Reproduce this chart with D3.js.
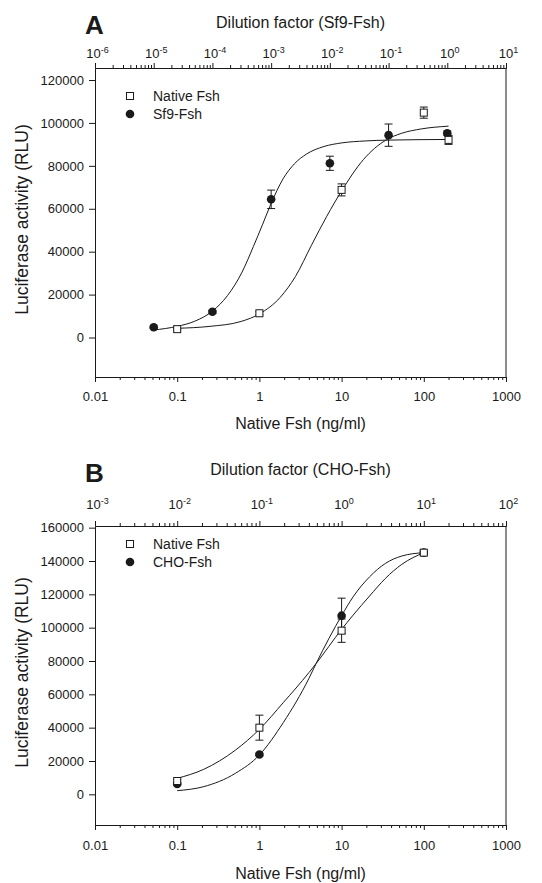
<!DOCTYPE html>
<html>
<head>
<meta charset="utf-8">
<script src="https://cdn.jsdelivr.net/npm/d3@7"></script>
<style>
  body { margin: 0; background: #fff; }
  svg text { font-family: Arial, "Liberation Sans", sans-serif; fill: #1a1a1a; }
</style>
</head>
<body>
<script>
// ---- Panel A: Sf9-Fsh vs native Fsh ----
const nativeDoseA = [0.1, 1, 10, 100, 200];
const nativeRespA = [3900, 11300, 68800, 104800, 92100];
const nativeErrA = [400, 700, 2800, 2600, 2100];
const sf9DilA = [1e-5, 1e-4, 1e-3, 1e-2, 1e-1, 1];
const sf9RespA = [4800, 12000, 64400, 81200, 94300, 95200];
const sf9ErrA = [500, 700, 4300, 3300, 5200, 1000];

// fitted curves
const nativeFitXA = [0.1, 0.25, 0.6, 1, 1.8, 2.75, 4.3, 6.6, 10, 18.5, 34.6, 54, 93, 200];
const nativeFitYA = [4300, 5200, 7500, 11000, 18800, 28500, 43000, 56500, 68300, 83000, 92000, 95200, 97200, 98500];
const sf9FitXA = [1e-5, 2.5e-5, 5e-5, 1e-4, 1.8e-4, 3.2e-4, 5e-4, 7.1e-4, 1e-3, 1.6e-3, 2.5e-3, 4e-3, 7.9e-3, 0.016, 0.04, 0.1, 1];
const sf9FitYA = [3500, 5200, 7600, 12300, 19500, 30500, 42500, 52500, 62500, 74000, 81000, 85500, 89000, 90700, 91600, 92000, 92300];

// ---- Panel B: CHO-Fsh vs native Fsh ----
const nativeDoseB = [0.1, 1, 10, 100];
const nativeRespB = [8000, 40000, 98200, 145000];
const nativeErrB = [800, 7500, 7000, 1000];
const choDilB = [0.01, 0.1, 1, 10];
const choRespB = [6200, 23900, 107200, 145000];
const choErrB = [600, 800, 10500, 1200];

const nativeFitXB = [0.1, 0.21, 0.51, 1, 1.95, 4, 4.9, 10, 13.8, 21.9, 34, 54, 100];
const nativeFitYB = [9600, 15000, 26500, 39000, 55000, 73000, 78500, 99000, 107500, 119000, 129500, 138000, 145000];
const choFitXB = [0.01, 0.021, 0.051, 0.1, 0.195, 0.4, 0.49, 1, 1.38, 2.19, 3.4, 5.4, 10];
const choFitYB = [2200, 4600, 12600, 23600, 43000, 69500, 78500, 107200, 118500, 130500, 138500, 143000, 145000];

// ---- axes ----
const bottomTicks = [0.01, 0.1, 1, 10, 100, 1000];
const bottomLabels = ["0.01", "0.1", "1", "10", "100", "1000"];
const topTicksA = [1e-6, 1e-5, 1e-4, 1e-3, 1e-2, 1e-1, 1, 10];
const topExpA = ["-6", "-5", "-4", "-3", "-2", "-1", "0", "1"];
const topTicksB = [1e-3, 1e-2, 1e-1, 1, 10, 100];
const topExpB = ["-3", "-2", "-1", "0", "1", "2"];
const yTicksA = [0, 20000, 40000, 60000, 80000, 100000, 120000];
const yTicksB = [0, 20000, 40000, 60000, 80000, 100000, 120000, 140000, 160000];

const width = 542;
const height = 883;
const left = 95;
const right = 506;
const ink = "#1a1a1a";

const svg = d3.select("body")
  .append("svg")
  .attr("width", width)
  .attr("height", height);

function minorTicks(decades) {
  const out = [];
  for (let i = 0; i < decades.length - 1; i++) {
    for (let m = 2; m <= 9; m++) out.push(decades[i] * m);
  }
  return out;
}

function styleAxis(g) {
  g.attr("font-size", null).attr("font-family", null);
  g.selectAll("path, line").attr("stroke", ink);
  g.selectAll("text").attr("fill", ink).style("font-size", "13px");
}

function drawPanel(p) {
  const g = svg.append("g");
  const x = d3.scaleLog().domain([bottomTicks[0], bottomTicks[bottomTicks.length - 1]]).range([left, right]);
  const xTop = d3.scaleLog().domain([p.topTicks[0], p.topTicks[p.topTicks.length - 1]]).range([left, right]);
  const y = d3.scaleLinear().domain(p.yDomain).range([p.bottom, p.top]);

  // left axis
  g.append("g")
    .attr("transform", `translate(${left},0)`)
    .call(d3.axisLeft(y).tickValues(p.yTicks).tickSize(6).tickPadding(5).tickSizeOuter(0).tickFormat(d3.format("d")))
    .call(styleAxis);

  // right frame line
  g.append("line")
    .attr("x1", right).attr("x2", right)
    .attr("y1", p.top).attr("y2", p.bottom)
    .attr("stroke", ink);

  // bottom axis, minor then major
  g.append("g")
    .attr("transform", `translate(0,${p.bottom})`)
    .call(d3.axisBottom(x).tickValues(minorTicks(bottomTicks)).tickSize(3).tickSizeOuter(0).tickFormat(""))
    .call(styleAxis);
  g.append("g")
    .attr("transform", `translate(0,${p.bottom})`)
    .call(d3.axisBottom(x).tickValues(bottomTicks).tickSize(5).tickPadding(p.bottomPad).tickSizeOuter(0)
      .tickFormat((d, i) => bottomLabels[i]))
    .call(styleAxis);

  // top axis, minor then major with superscript labels
  g.append("g")
    .attr("transform", `translate(0,${p.top})`)
    .call(d3.axisTop(xTop).tickValues(minorTicks(p.topTicks)).tickSize(3).tickSizeOuter(0).tickFormat(""))
    .call(styleAxis);
  const topAxis = g.append("g")
    .attr("transform", `translate(0,${p.top})`)
    .call(d3.axisTop(xTop).tickValues(p.topTicks).tickSize(5).tickSizeOuter(0).tickFormat(""))
    .call(styleAxis);
  topAxis.selectAll(".tick text").each(function (d, i) {
    const t = d3.select(this).attr("dy", null)
      .attr("y", p.topLabelY - p.top).attr("dx", "2px");
    t.append("tspan").text("10");
    t.append("tspan").attr("dy", "-5").style("font-size", "9px").text(p.topExp[i]);
  });

  // titles
  g.append("text")
    .attr("x", 85).attr("y", p.letterY)
    .style("font-size", "26px").style("font-weight", "bold")
    .text(p.letter);
  g.append("text")
    .attr("x", (left + right) / 2).attr("y", p.topTitleY)
    .attr("text-anchor", "middle").style("font-size", "16px")
    .text(p.topTitle);
  g.append("text")
    .attr("x", (left + right) / 2).attr("y", p.bottomTitleY)
    .attr("text-anchor", "middle").style("font-size", "16px")
    .text("Native Fsh (ng/ml)");
  g.append("text")
    .attr("transform", `translate(28,${(p.top + p.bottom) / 2 - 3}) rotate(-90)`)
    .attr("text-anchor", "middle").style("font-size", "17.5px")
    .text("Luciferase activity (RLU)");

  // fitted curves
  const line = d3.line().curve(d3.curveMonotoneX);
  g.append("path")
    .attr("d", line(p.nativeFitX.map((v, i) => [x(v), y(p.nativeFitY[i])])))
    .attr("fill", "none").attr("stroke", ink).attr("stroke-width", 1);
  g.append("path")
    .attr("d", line(p.testFitX.map((v, i) => [xTop(v), y(p.testFitY[i])])))
    .attr("fill", "none").attr("stroke", ink).attr("stroke-width", 1);

  // error bars
  function errorBars(xs, ys, es, sx) {
    const eg = g.append("g").attr("stroke", ink).attr("stroke-width", 1);
    xs.forEach((v, i) => {
      const cx = sx(v);
      const y1 = y(ys[i] - es[i]);
      const y2 = y(ys[i] + es[i]);
      eg.append("line").attr("x1", cx).attr("x2", cx).attr("y1", y1).attr("y2", y2);
      eg.append("line").attr("x1", cx - 4).attr("x2", cx + 4).attr("y1", y1).attr("y2", y1);
      eg.append("line").attr("x1", cx - 4).attr("x2", cx + 4).attr("y1", y2).attr("y2", y2);
    });
  }
  errorBars(p.nativeX, p.nativeY, p.nativeE, x);
  errorBars(p.testX, p.testY, p.testE, xTop);

  // markers
  g.append("g").selectAll("circle")
    .data(p.testX)
    .join("circle")
    .attr("cx", d => xTop(d))
    .attr("cy", (d, i) => y(p.testY[i]))
    .attr("r", 4.3)
    .attr("fill", ink);
  g.append("g").selectAll("rect")
    .data(p.nativeX)
    .join("rect")
    .attr("x", d => x(d) - 3.5)
    .attr("y", (d, i) => y(p.nativeY[i]) - 3.5)
    .attr("width", 7).attr("height", 7)
    .attr("fill", "#fff").attr("stroke", ink).attr("stroke-width", 1);

  // legend
  const lg = g.append("g");
  lg.append("rect")
    .attr("x", 130 - 3.5).attr("y", p.legendY - 3.5)
    .attr("width", 7).attr("height", 7)
    .attr("fill", "#fff").attr("stroke", ink);
  lg.append("text").attr("x", 153).attr("y", p.legendY + 5).style("font-size", "14px").text("Native Fsh");
  lg.append("circle").attr("cx", 130).attr("cy", p.legendY + 18).attr("r", 4.3).attr("fill", ink);
  lg.append("text").attr("x", 153).attr("y", p.legendY + 23).style("font-size", "14px").text(p.testName);
}

drawPanel({
  letter: "A", letterY: 34,
  topTitle: "Dilution factor (Sf9-Fsh)", topTitleY: 28,
  topTicks: topTicksA, topExp: topExpA, topLabelY: 58,
  top: 68, bottom: 377, yDomain: [-18400, 125600], yTicks: yTicksA,
  bottomPad: 10, bottomTitleY: 429,
  nativeX: nativeDoseA, nativeY: nativeRespA, nativeE: nativeErrA,
  testX: sf9DilA, testY: sf9RespA, testE: sf9ErrA,
  nativeFitX: nativeFitXA, nativeFitY: nativeFitYA,
  testFitX: sf9FitXA, testFitY: sf9FitYA,
  legendY: 96, testName: "Sf9-Fsh"
});

drawPanel({
  letter: "B", letterY: 482,
  topTitle: "Dilution factor (CHO-Fsh)", topTitleY: 475,
  topTicks: topTicksB, topExp: topExpB, topLabelY: 509,
  top: 526, bottom: 825, yDomain: [-18400, 161000], yTicks: yTicksB,
  bottomPad: 11, bottomTitleY: 879,
  nativeX: nativeDoseB, nativeY: nativeRespB, nativeE: nativeErrB,
  testX: choDilB, testY: choRespB, testE: choErrB,
  nativeFitX: nativeFitXB, nativeFitY: nativeFitYB,
  testFitX: choFitXB, testFitY: choFitYB,
  legendY: 544, testName: "CHO-Fsh"
});
</script>
</body>
</html>
